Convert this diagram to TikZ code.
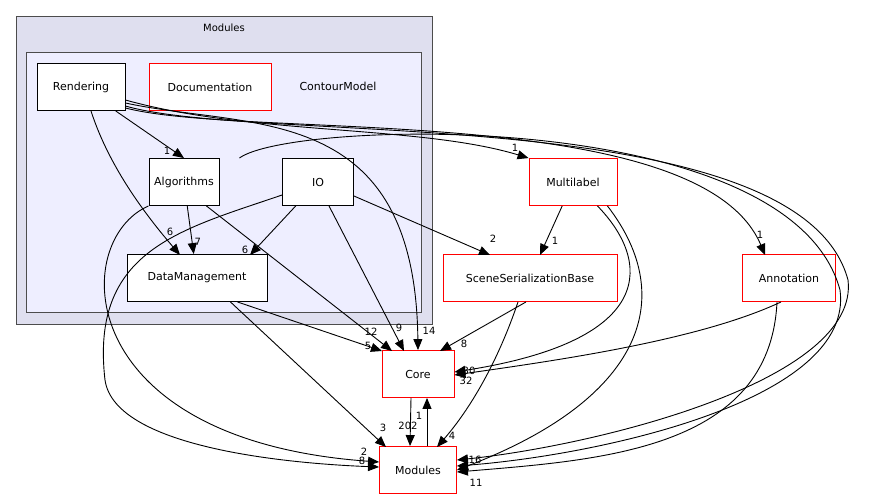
\documentclass[tikz,border=0pt]{standalone}
\usepackage{fontspec}
\setmainfont{DejaVu Sans}
\usetikzlibrary{arrows.meta}
\begin{document}
\begin{tikzpicture}[x=1pt,y=-1pt,line width=0.9pt,
  box/.style={draw=black,fill=white,minimum height=47pt,inner sep=0pt},
  rbox/.style={draw=red,fill=white,minimum height=47pt,inner sep=0pt},
  e/.style={-{Triangle[length=11pt,width=9pt]},black},
  l/.style={font=\fontsize{10}{11}\selectfont,inner sep=1pt},
  every node/.style={font=\fontsize{11}{13}\selectfont}]
\useasboundingbox (0,0) rectangle (869,500);
\filldraw[draw=black!70,fill={rgb,255:red,223;green,223;blue,239}] (16,16) rectangle (432,324);
\node[font=\fontsize{10}{11}\selectfont] at (224,28) {Modules};
\filldraw[draw=black!70,fill={rgb,255:red,238;green,238;blue,255}] (26,52) rectangle (421,312);
\node at (338,86) {ContourModel};
\node[box,minimum width=88pt] (R) at (81,87) {Rendering};
\node[rbox,minimum width=122pt] (Doc) at (210,87) {Documentation};
\node[box,minimum width=70pt] (A) at (184,182) {Algorithms};
\node[box,minimum width=71pt] (IO) at (318,182) {IO};
\node[box,minimum width=140pt] (D) at (197,278) {DataManagement};
\node[rbox,minimum width=88pt] (ML) at (573,182) {Multilabel};
\node[rbox,minimum width=174pt] (S) at (530,278) {SceneSerializationBase};
\node[rbox,minimum width=93pt] (An) at (789,278) {Annotation};
\node[rbox,minimum width=72pt] (C) at (418,374) {Core};
\node[rbox,minimum width=77pt] (M) at (418,470) {Modules};
\coordinate (Dn1) at (180,255);
\coordinate (Dn2) at (250,255);
% edges
\draw[e] (R) -- (A.north) node[l,pos=0.85,left=2pt] {1};
\draw[e] (R.south) ++(10,0) .. controls (110,170) and (150,220) .. (Dn1);
\node[l] at (170,232) {6};
\draw[e] (R.east) ++(0,16) .. controls (250,130) and (415,100) .. (C.north);
\node[l] at (429,331) {14};
\draw[e] (R.east) ++(0,13) .. controls (250,135) and (420,125) .. (ML.north west);
\node[l] at (515,148) {1};
\draw[e] (R.east) ++(0,21) .. controls (250,140) and (700,100) .. (765,255);
\node[l] at (760,235) {1};
\draw[e] (R.east) ++(0,19) .. controls (260,145) and (800,100) .. (848,280) .. controls (860,380) and (600,445) .. (M.east |- 0,460);
\node[l] at (475,460) {16};
\draw[e] (A.north east) ++(20,0) .. controls (290,120) and (790,105) .. (840,290) .. controls (855,400) and (600,455) .. (M.east |- 0,466);
\node[l] at (466,469) {6};
\draw[e] (A) -- (D) node[l,pos=0.75,right=1pt] {7};
\draw[e] (IO) -- (Dn2);
\node[l] at (245,250) {6};
\draw[e] (A.south east) ++(-13,0) -- (392,351);
\node[l] at (371,332) {12};
\draw[e] (A.south west) .. controls (70,240) and (70,440) .. (M.west |- 0,462);
\node[l] at (364,452) {2};
\draw[e] (IO.west) ++(0,13) .. controls (180,230) and (90,250) .. (105,380) .. controls (115,450) and (300,464) .. (M.west |- 0,467);
\node[l] at (362,461) {8};
\draw[e] (IO.south) ++(11,0) -- (404,351);
\node[l] at (399,328) {9};
\draw[e] (IO.east) ++(0,14) -- (490,255);
\node[l] at (493,239) {2};
\draw[e] (D.south east) ++(-30,0) -- (382,351);
\node[l] at (368,346) {5};
\draw[e] (D.south east) ++(-37,0) -- (386,447);
\node[l] at (383,428) {3};
\draw[e] (ML) -- (540,255);
\node[l] at (555,241) {1};
\draw[e] (ML.south east) ++(-20,0) .. controls (650,260) and (660,340) .. (C.east |- 0,372);
\node[l] at (469,371) {30};
\draw[e] (S.south) ++(-4,0) -- (440,351);
\node[l] at (464,344) {8};
\draw[e] (S.south) ++(-12,0) .. controls (495,370) and (465,415) .. (437,447);
\node[l] at (452,436) {4};
\draw[e] (ML.south east) ++(-10,0) .. controls (680,300) and (640,400) .. (M.east);
\draw[e] (An.south) ++(-8,0) .. controls (700,340) and (560,360) .. (C.east |- 0,375);
\node[l] at (466,381) {32};
\draw[e] (An.south) ++(-12,0) .. controls (770,450) and (600,460) .. (M.east |- 0,472);
\node[l] at (476,483) {11};
\draw[e] (C.south) ++(-7,0) -- ([xshift=-8]M.north);
\node[l] at (408,426) {202};
\draw[e] ([xshift=9]M.north) -- ([xshift=9]C.south);
\node[l] at (419,416) {1};
\end{tikzpicture}
\end{document}
